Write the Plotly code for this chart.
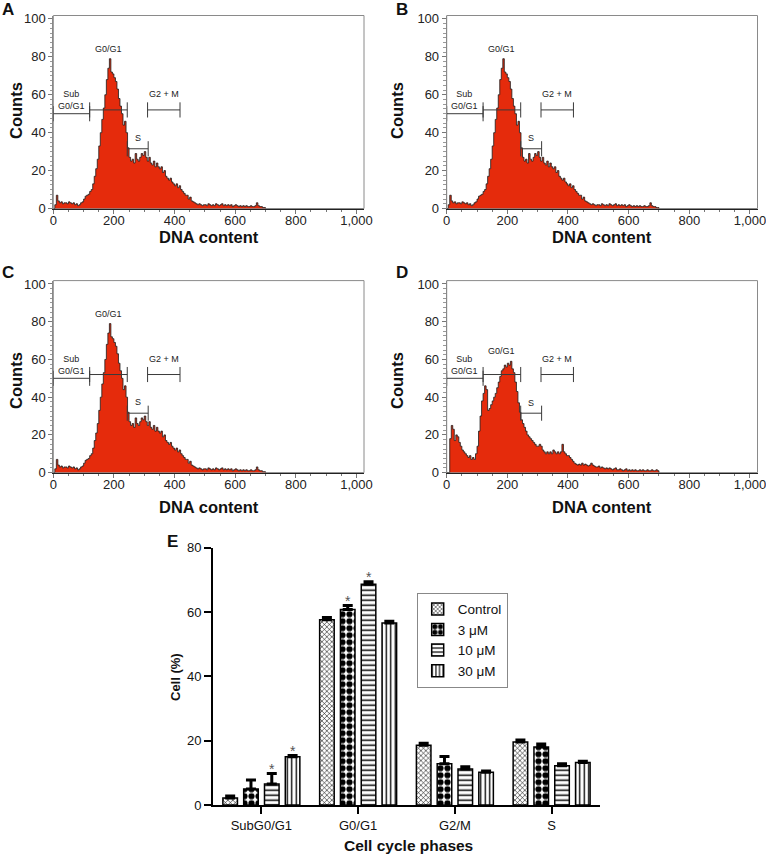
import plotly.graph_objects as go

# ---------------- DATA ----------------
dna_channels = list(range(0, 705, 5))

counts_abc = [
    0, 2, 7, 4, 3, 3.5, 2.5, 3, 3, 2.5,
    3.5, 3, 2.5, 3, 2, 2.5, 1.5, 2, 3, 3.5,
    5, 6.5, 7, 7.5, 9, 10, 13, 17, 21, 26,
    33, 40, 47, 53, 60, 68, 74, 79, 72, 71,
    69, 67, 63, 58, 54, 50, 44, 46, 40, 32,
    27, 25, 26, 24, 29, 26, 25, 27, 29, 28,
    30, 27, 25, 27, 24, 23, 25, 22, 24, 22,
    21, 22, 19, 20, 17, 16, 15, 16, 14, 13,
    12, 13, 11, 12, 10, 9, 8, 7, 7, 5,
    6, 4, 3.5, 3, 2.5, 2, 2.5, 2, 1.5, 2,
    2, 1.5, 2.5, 2, 1.5, 2, 1.5, 2.5, 2, 1.5,
    2, 2.5, 1.5, 2, 1.5, 2, 1.5, 2, 1, 1.5,
    2, 1.5, 1, 1.5, 1, 1.5, 1, 1.5, 1, 1,
    1.5, 1, 1, 1.5, 3, 1.5, 1, 1, 0.5, 0.5,
    0,
]

# Histogram counts
counts_d = [
    0, 0, 18, 25, 23, 17, 20, 19, 16, 14,
    12, 11, 10, 9, 8, 9, 7, 8, 7, 10,
    14, 22, 30, 38, 42, 46, 44, 33, 34, 36,
    38, 40, 42, 45, 48, 51, 54, 55, 57, 56,
    58, 57, 59, 55, 53, 48, 43, 37, 32, 28,
    26, 24, 22, 20, 19, 18, 17, 16, 15, 14,
    14, 15, 14, 12, 11, 10, 11, 10, 11, 10,
    12, 11, 10, 11, 10, 11, 15, 11, 10, 9,
    9, 8, 7, 6, 5, 4.5, 4, 4.5, 4, 5,
    4, 4.5, 4, 3.5, 4, 5, 4, 3.5, 3, 3,
    3.5, 2.5, 3, 2.5, 2, 2.5, 2, 2.5, 2, 1.5,
    2, 2.5, 1.5, 1.5, 2, 1.5, 1, 1.5, 2, 1,
    1.5, 1, 1.5, 1, 1.5, 1, 1, 1.5, 1, 1.5,
    1, 1, 1.5, 1, 1, 1.5, 1, 1, 1.5, 1,
    0,
]

panel_letters = ["A", "B", "C", "D"]

# Gates (markers) on the histograms
gate_names = ["Sub<br>G0/G1", "G0/G1", "S", "G2 + M"]
gate_start = [0, 120, 244, 311]
gate_end = [120, 244, 313, 418]
gate_level = [50, 52, 31.5, 52]

hist_ticks = [0, 200, 400, 600, 800, 1000]
count_ticks = [0, 20, 40, 60, 80, 100]

# Panel E: bar chart
phases = ["SubG0/G1", "G0/G1", "G2/M", "S"]
treatments = ["Control", "3 μM", "10 μM", "30 μM"]
control_pct = [2.2, 57.6, 18.6, 19.6]
um3_pct = [5.0, 60.8, 12.8, 18.0]
um10_pct = [6.5, 68.6, 11.2, 12.2]
um30_pct = [15.0, 56.6, 10.2, 13.2]
control_err = [0.6, 0.7, 0.6, 0.6]
um3_err = [2.8, 1.2, 2.3, 1.0]
um10_err = [3.3, 0.8, 0.7, 0.6]
um30_err = [0.4, 0.5, 0.4, 0.4]
control_sig = [0, 0, 0, 0]
um3_sig = [0, 1, 0, 0]
um10_sig = [1, 1, 0, 0]
um30_sig = [1, 0, 0, 0]
pct_ticks = [0, 20, 40, 60, 80]

# ---------------- STYLE ----------------
W, H = 766, 854
FONT = "Arial, Liberation Sans, Helvetica, sans-serif"
RED = "#E52B0C"


def px_x(a):
    return a / W


def px_y(b):
    return 1 - b / H


def xd(a, b):
    return [px_x(a), px_x(b)]


def yd(top, bottom):
    return [px_y(bottom), px_y(top)]


def paper_text(x, y, text, size, angle=0):
    return dict(x=px_x(x), y=px_y(y), xref="paper", yref="paper", text=text,
                textangle=angle, showarrow=False, xanchor="center", yanchor="middle",
                font=dict(family=FONT, size=size, color="#111"))


panel_counts = [counts_abc, counts_abc, counts_abc, counts_d]
panel_xdom = [xd(53.3, 364), xd(446.7, 757.5), xd(53.3, 364), xd(446.7, 757.5)]
panel_ydom = [yd(15.5, 208.5), yd(15.5, 208.5), yd(280.6, 472.6), yd(280.6, 472.6)]
label_pad = [0.3, 1.5, 1.5, 4.5]
TICK_H = 4

fig = go.Figure()
annotations = []
shapes = []
layout = {}

for p in range(4):
    n = p + 1
    xa = "x" if n == 1 else f"x{n}"
    ya = "y" if n == 1 else f"y{n}"
    counts = panel_counts[p]
    fig.add_trace(go.Scatter(
        x=dna_channels, y=counts, mode="lines",
        line=dict(color="#1c1c1c", width=0.8, shape="hv"),
        fill="tozeroy", fillcolor=RED,
        xaxis=xa, yaxis=ya, showlegend=False, hoverinfo="skip"))
    # gates
    for g in range(len(gate_names)):
        s, e, L = gate_start[g], gate_end[g], gate_level[g]
        fig.add_trace(go.Scatter(
            x=[s, e, None, s, s, None, e, e],
            y=[L, L, None, L - TICK_H, L + TICK_H, None, L - TICK_H, L + TICK_H],
            mode="lines", line=dict(color="#3a3a3a", width=1),
            xaxis=xa, yaxis=ya, showlegend=False, hoverinfo="skip"))
        inside = [c for xx, c in zip(dna_channels, counts) if s <= xx <= e]
        top = max([L] + inside)
        annotations.append(dict(
            x=(s + e) / 2, y=top + label_pad[g], xref=xa, yref=ya,
            text=gate_names[g], showarrow=False, xanchor="center", yanchor="bottom",
            font=dict(family=FONT, size=9, color="#222")))

    axis_common = dict(showgrid=False, zeroline=False, ticks="outside",
                       ticklen=4, tickwidth=1, tickcolor="#777", automargin=False,
                       ticklabeloverflow="allow",
                       tickfont=dict(family=FONT, size=13, color="#222"))
    layout["xaxis" if n == 1 else f"xaxis{n}"] = dict(
        domain=panel_xdom[p], anchor=ya, range=[0, 1025],
        tickvals=hist_ticks, tickformat=",d", linecolor="#222", linewidth=1.2,
        ticklabelstandoff=-4,
        minor=dict(dtick=50, ticks="outside", ticklen=2.5, tickcolor="#777"),
        **axis_common)
    layout["yaxis" if n == 1 else f"yaxis{n}"] = dict(
        domain=panel_ydom[p], anchor=xa, range=[0, 101.8],
        tickvals=count_ticks, linecolor="#888", linewidth=1,
        minor=dict(dtick=2.5, ticks="outside", ticklen=2.5, tickcolor="#999"),
        **axis_common)
    shapes.append(dict(type="rect", xref=f"{xa} domain", yref=f"{ya} domain",
                       x0=0, x1=1, y0=0, y1=1, layer="below",
                       line=dict(color="#8a8a8a", width=1)))

    # axis titles & panel letter
    left = p % 2 == 0
    row_off = 0 if p < 2 else 270
    annotations.append(paper_text(208.5 if left else 602, 237 + row_off,
                                  "<b>DNA content</b>", 16.5))
    annotations.append(paper_text(16 if left else 397, 111 + row_off,
                                  "<b>Counts</b>", 16.5, angle=-90))
    annotations.append(paper_text(8 if left else 402, 9 if p < 2 else 272,
                                  f"<b>{panel_letters[p]}</b>", 17))

# ---------------- Panel E ----------------
bar_vals = [control_pct, um3_pct, um10_pct, um30_pct]
bar_errs = [control_err, um3_err, um10_err, um30_err]
bar_sigs = [control_sig, um3_sig, um10_sig, um30_sig]
patterns = [
    dict(shape="x", size=3.5, solidity=0.3),
    dict(shape=".", size=7, solidity=0.62),
    dict(shape="-", size=5, solidity=0.3),
    dict(shape="|", size=4.5, solidity=0.3),
]
BARGAP = 0.14
BARGROUPGAP = 0.3
slot = (1 - BARGAP) / len(treatments)
cat_pos = list(range(len(phases)))

for i, name in enumerate(treatments):
    pat = dict(patterns[i], fgcolor="black", bgcolor="white", fillmode="replace")
    fig.add_trace(go.Bar(
        x=cat_pos, y=bar_vals[i], name=name,
        marker=dict(color="white", line=dict(color="black", width=1.5), pattern=pat),
        error_y=dict(type="data", array=bar_errs[i], arrayminus=[0] * len(phases),
                     symmetric=False, color="black", thickness=3, width=5),
        xaxis="x5", yaxis="y5"))
    for c in cat_pos:
        if bar_sigs[i][c]:
            annotations.append(dict(
                x=c + (i - 1.5) * slot, y=bar_vals[i][c] + bar_errs[i][c] + 1.4,
                xref="x5", yref="y5", text="*", showarrow=False,
                xanchor="center", yanchor="middle",
                font=dict(family=FONT, size=14, color="#555")))

layout["xaxis5"] = dict(
    domain=xd(213, 600), anchor="y5", range=[-0.5, 3.5], automargin=False,
    tickvals=cat_pos, ticktext=phases, showgrid=False, zeroline=False,
    ticks="outside", ticklen=7, tickwidth=2, tickcolor="black",
    showline=True, linecolor="black", linewidth=2,
    tickfont=dict(family=FONT, size=13, color="#111"))
layout["yaxis5"] = dict(
    domain=yd(547.7, 805), anchor="x5", range=[0, 80], automargin=False,
    tickvals=pct_ticks, showgrid=False, zeroline=False,
    ticks="outside", ticklen=7, tickwidth=2, tickcolor="black",
    showline=True, linecolor="black", linewidth=2,
    tickfont=dict(family=FONT, size=13, color="#111"))

annotations.append(paper_text(175, 677, "<b>Cell (%)</b>", 13, angle=-90))
annotations.append(paper_text(408, 845, "<b>Cell cycle phases</b>", 15.5))
annotations.append(paper_text(172, 541, "<b>E</b>", 17))

fig.update_layout(
    width=W, height=H, margin=dict(l=0, r=0, t=0, b=0, autoexpand=False),
    paper_bgcolor="white", plot_bgcolor="white",
    barmode="group", bargap=BARGAP, bargroupgap=BARGROUPGAP,
    font=dict(family=FONT, color="#111"),
    legend=dict(x=px_x(416.7), y=px_y(592.7), xanchor="left", yanchor="top",
                bordercolor="#888", borderwidth=1, bgcolor="white",
                font=dict(family=FONT, size=13.5, color="#111"),
                tracegroupgap=0),
    annotations=annotations, shapes=shapes,
    **layout)

fig.write_html("out.html",
               config={"displayModeBar": False},
               post_script="document.body.style.margin='0px';"
                           "document.documentElement.style.margin='0px';")
